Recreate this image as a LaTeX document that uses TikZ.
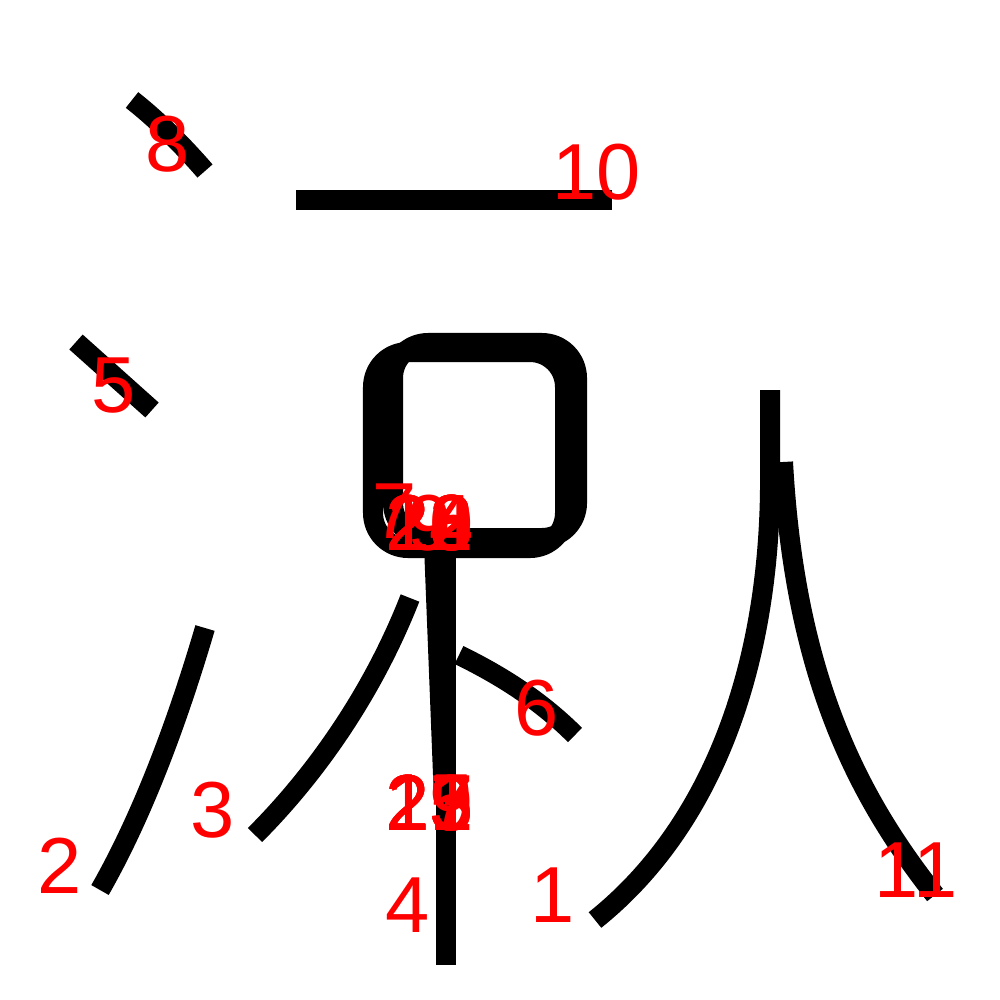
\documentclass[tikz,border=0pt]{standalone}
\usepackage{fontspec}
\setmainfont{Liberation Sans}
\begin{document}
\begin{tikzpicture}[x=0.01cm,y=-0.01cm,
  stroke/.style={line width=0.2cm, line cap=butt, line join=round, black},
  lbl/.style={text=red, inner sep=0pt, font=\fontsize{22.6}{27}\selectfont}]
\useasboundingbox (0,0) rectangle (1000,1000);
% strokes
\draw[stroke] (132,100) .. controls (160,122) and (185,148) .. (205,171);
\draw[stroke] (296,200) -- (612,200);
\draw[stroke] (76,342) -- (152,410);
\draw[stroke, rounded corners=0.35cm] (373,352) rectangle (565,548);
\draw[stroke, rounded corners=0.35cm] (393,343) rectangle (577,538);
\draw[stroke] (446,545) -- (446,965);
\draw[stroke] (434,545) -- (444,800);
\draw[stroke] (459,655) .. controls (500,675) and (540,700) .. (575,735);
\draw[stroke] (205,628) .. controls (175,730) and (140,820) .. (100,890);
\draw[stroke] (410,598) .. controls (370,700) and (310,780) .. (255,835);
\draw[stroke] (770,390) -- (770,470) .. controls (772,650) and (720,820) .. (595,920);
\draw[stroke] (783,462) .. controls (795,680) and (860,800) .. (935,895);
% labels
\node[lbl] (n1) at (553,895) {1};
\node[lbl] (n2) at (60,866) {2};
\node[lbl] (n3) at (213,810) {3};
\node[lbl] (n4) at (408,905) {4};
\node[lbl] (n5) at (114,386) {5};
\node[lbl] (n6) at (537,708) {6};
\node[lbl] (n7) at (395,511) {7};
\node[lbl] (n8) at (168,144) {8};
\node[lbl] (n10) at (597,172) {10};
\node[lbl] (n11) at (916,870) {11};
\node[lbl] (n9) at (430,523) {9};
\node[lbl] (n12) at (430,523) {12};
\node[lbl] (n14) at (430,523) {14};
\node[lbl] (n16) at (430,523) {16};
\node[lbl] (n18) at (430,523) {18};
\node[lbl] (n20) at (430,523) {20};
\node[lbl] (n22) at (430,523) {22};
\node[lbl] (n24) at (430,523) {24};
\node[lbl] (n13) at (430,803) {13};
\node[lbl] (n15) at (430,803) {15};
\node[lbl] (n17) at (430,803) {17};
\node[lbl] (n19) at (430,803) {19};
\node[lbl] (n21) at (430,803) {21};
\node[lbl] (n23) at (430,803) {23};
\node[lbl] (n25) at (430,803) {25};
\end{tikzpicture}
\end{document}
